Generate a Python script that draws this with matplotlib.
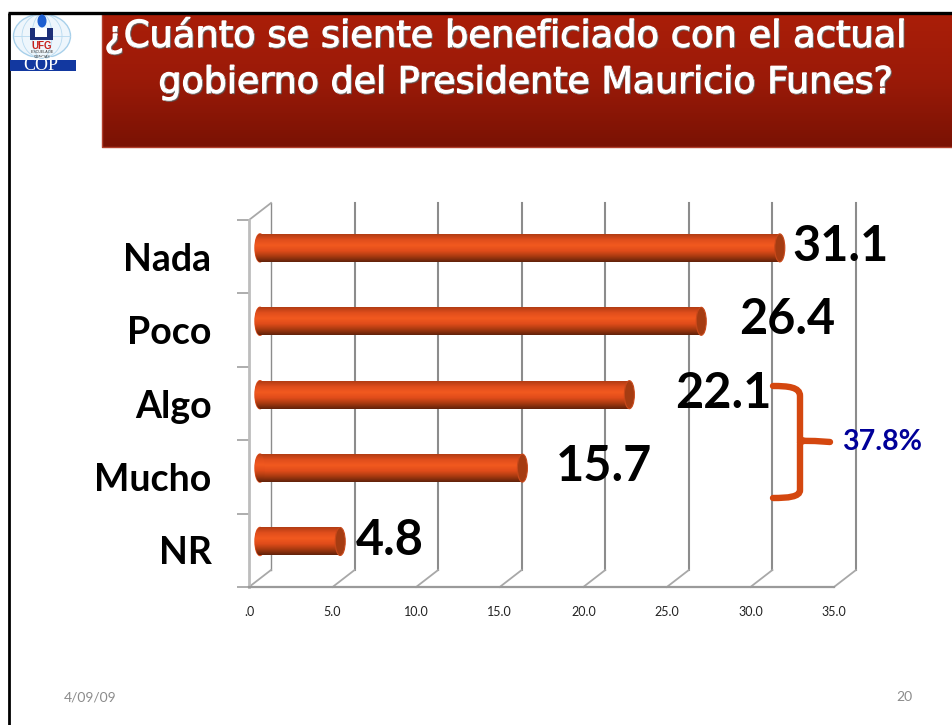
import matplotlib

matplotlib.use('Agg')
import matplotlib.pyplot as plt
import matplotlib.patheffects as pe
from matplotlib.patches import Ellipse, Rectangle, PathPatch
from matplotlib.path import Path
from matplotlib.colors import LinearSegmentedColormap
import numpy as np

# data
categories = ['Nada', 'Poco', 'Algo', 'Mucho', 'NR']
values = [31.1, 26.4, 22.1, 15.7, 4.8]
x_ticks = [0, 5, 10, 15, 20, 25, 30, 35]
x_tick_labels = ['.0', '5.0', '10.0', '15.0', '20.0', '25.0', '30.0', '35.0']
title_lines = ['¿Cuánto se siente beneficiado con el actual',
               'gobierno del Presidente Mauricio Funes?']
bracket_label = '37.8%'
date_label = '4/09/09'
page_label = '20'

# hand placed value labels, gap from bar end in px
label_gaps = [8, 33, 41, 28, 11]

W, H = 952, 725
FONT = 'Lato'

# 3d look of the chart, in data units
depth_x = 22 / 16.72
depth_y = 17 / 73.4
bar_base = 11 / 16.72
bar_shift = -0.12
bar_h = 28 / 73.4
cap_w = 10 / 16.72

bar_cmap = LinearSegmentedColormap.from_list(
    'bar', ['#b23c14', '#e04e1c', '#f2591f', '#e04c1a', '#a83a10', '#62220a'])
title_cmap = LinearSegmentedColormap.from_list('title', ['#aa1e08', '#9a1a08', '#7a1204'])
grad = np.linspace(0, 1, 64).reshape(-1, 1)

fig = plt.figure(figsize=(W / 100, H / 100), dpi=100, facecolor='white')

ax = fig.add_axes([249 / W, (H - 587) / H, 585 / W, 367 / H])
ax.patch.set_alpha(0)

# back wall and floor lines
for t in x_ticks:
    ax.plot([t + depth_x, t + depth_x], [4.5 - depth_y, -0.5 - depth_y], color='#8c8c8c',
            lw=1.5 if t > 0 else 1.0, clip_on=False, zorder=1)
    ax.plot([t, t + depth_x], [4.5, 4.5 - depth_y], color='#a8a8a8', lw=1.3,
            clip_on=False, zorder=1)
ax.plot([0, depth_x], [-0.5, -0.5 - depth_y], color='#a8a8a8', lw=1.3, clip_on=False, zorder=1)

# bars
y_pos = np.arange(len(categories)) + bar_shift
bars = ax.barh(y_pos, values, left=bar_base, height=bar_h, color='#e04e1c', zorder=2)
for rect, y, v, gap in zip(bars, y_pos, values, label_gaps):
    img = ax.imshow(grad, extent=(bar_base, bar_base + v, y + bar_h / 2, y - bar_h / 2),
                    cmap=bar_cmap, aspect='auto', zorder=3)
    img.set_clip_path(rect)
    left = Ellipse((bar_base, y), cap_w, bar_h, color='#e04e1c', zorder=2)
    ax.add_patch(left)
    img2 = ax.imshow(grad, extent=(bar_base - cap_w, bar_base + cap_w, y + bar_h / 2, y - bar_h / 2),
                     cmap=bar_cmap, aspect='auto', zorder=3)
    img2.set_clip_path(left)
    ax.add_patch(Ellipse((bar_base + v, y), cap_w, bar_h, facecolor='#a53c12',
                         edgecolor='#c8481a', lw=0.8, zorder=4))
    ax.annotate(f'{v:.1f}', (bar_base + v + cap_w / 2, y - 0.02), xytext=(gap * 0.72, 0),
                textcoords='offset points', ha='left', va='center', fontsize=35,
                fontweight='bold', family=FONT, color='black', zorder=6,
                annotation_clip=False)

ax.set_xlim(0, 35)
ax.set_ylim(4.5, -0.5)
ax.set_xticks(x_ticks)
ax.set_xticklabels(x_tick_labels, fontsize=9, family=FONT, color='#222222')
ax.tick_params(axis='x', length=0, pad=14)
ax.set_yticks(np.arange(len(categories)))
ax.set_yticklabels(categories, fontsize=27, fontweight='bold', family=FONT, color='black')
ax.tick_params(axis='y', which='major', length=0, pad=27)
ax.set_yticks(np.arange(len(categories) + 1) - 0.5, minor=True)
ax.tick_params(axis='y', which='minor', length=8.6, width=1.2, color='#a0a0a0')
for s in ['top', 'right']:
    ax.spines[s].set_visible(False)
ax.spines['left'].set_color('#bdbdbd')
ax.spines['left'].set_linewidth(2)
ax.spines['bottom'].set_color('#9a9a9a')
ax.spines['bottom'].set_linewidth(1.6)

# slide furniture, in pixel coords
over = fig.add_axes([0, 0, 1, 1], zorder=5)
over.patch.set_alpha(0)
over.axis('off')

over.imshow(grad, extent=(102, W, 147, 14), cmap=title_cmap, aspect='auto', zorder=1)
over.plot([102, 102, W], [14, 147, 147], color='#b2402e', lw=1.0, zorder=2)
over.plot([9, 9], [H, 13], color='black', lw=2, zorder=3, solid_capstyle='butt')
over.plot([8, W], [13, 13], color='black', lw=2.4, zorder=3, solid_capstyle='butt')

title_fx = [pe.withStroke(linewidth=1.2, foreground='white'),
            pe.withSimplePatchShadow(offset=(1, -1), shadow_rgbFace='#555555', alpha=0.7),
            pe.Normal()]
over.text(505, 36, title_lines[0], color='white', fontsize=26.5, family='DejaVu Sans',
          ha='center', va='center', path_effects=title_fx, zorder=4)
over.text(525, 83, title_lines[1], color='white', fontsize=26.2, family='DejaVu Sans',
          ha='center', va='center', path_effects=title_fx, zorder=4)

# logo
over.add_patch(Ellipse((42, 36), 57, 44, facecolor='#eef6fc', edgecolor='#a8d0ea', lw=1, zorder=2))
for w in [10, 20]:
    over.add_patch(Ellipse((42, 36), w * 2, 44, fill=False, edgecolor='#b8daf0', lw=0.6, zorder=2))
over.plot([14, 70], [36, 36], color='#b8daf0', lw=0.6, zorder=2)
over.add_patch(Rectangle((30, 28), 23, 12, facecolor='#1d2f78', zorder=3))
over.add_patch(Rectangle((35, 28), 12, 9, facecolor='white', zorder=3))
over.add_patch(Ellipse((42, 21), 9, 13, facecolor='#1f5fd0', zorder=3))
over.text(42, 46, 'UFG', color='#c8201c', fontsize=7, fontweight='bold', family='Liberation Sans',
          ha='center', va='center', zorder=4)
over.text(42, 54.5, 'ESCUELA DE\nCIENCIAS', color='#333333', fontsize=2.6, family='Liberation Sans',
          ha='center', va='center', zorder=4)
over.add_patch(Rectangle((10, 60), 66, 11, facecolor='#1238a0', zorder=3))
over.text(41, 65.5, 'COP', color='white', fontsize=13, family='Liberation Serif',
          ha='center', va='center', zorder=4)

# bracket
verts = [(773, 386), (788, 386), (800, 387), (800, 396),
         (800, 440), (800, 440), (800, 441), (815, 441), (830, 442)]
codes = [Path.MOVETO, Path.CURVE4, Path.CURVE4, Path.CURVE4,
         Path.LINETO, Path.CURVE4, Path.CURVE4, Path.CURVE4, Path.LINETO]
over.add_patch(PathPatch(Path(verts, codes), fill=False, edgecolor='#d4470f', lw=4.6,
                         capstyle='round', zorder=4))
verts2 = [(773, 498), (788, 498), (800, 497), (800, 490), (800, 444), (800, 441), (804, 441)]
codes2 = [Path.MOVETO, Path.CURVE4, Path.CURVE4, Path.CURVE4, Path.LINETO, Path.CURVE3, Path.CURVE3]
over.add_patch(PathPatch(Path(verts2, codes2), fill=False, edgecolor='#d4470f', lw=4.6,
                         capstyle='round', zorder=4))
over.text(842, 442, bracket_label, color='#000099', fontsize=20.5, fontweight='bold', family=FONT,
          ha='left', va='center', zorder=4)

over.text(64, 697, date_label, color='#8b8b8b', fontsize=10, family=FONT, ha='left', va='center')
over.text(912, 697, page_label, color='#8b8b8b', fontsize=10, family=FONT, ha='right', va='center')

over.set_xlim(0, W)
over.set_ylim(H, 0)

fig.savefig('out.png', dpi=100)
